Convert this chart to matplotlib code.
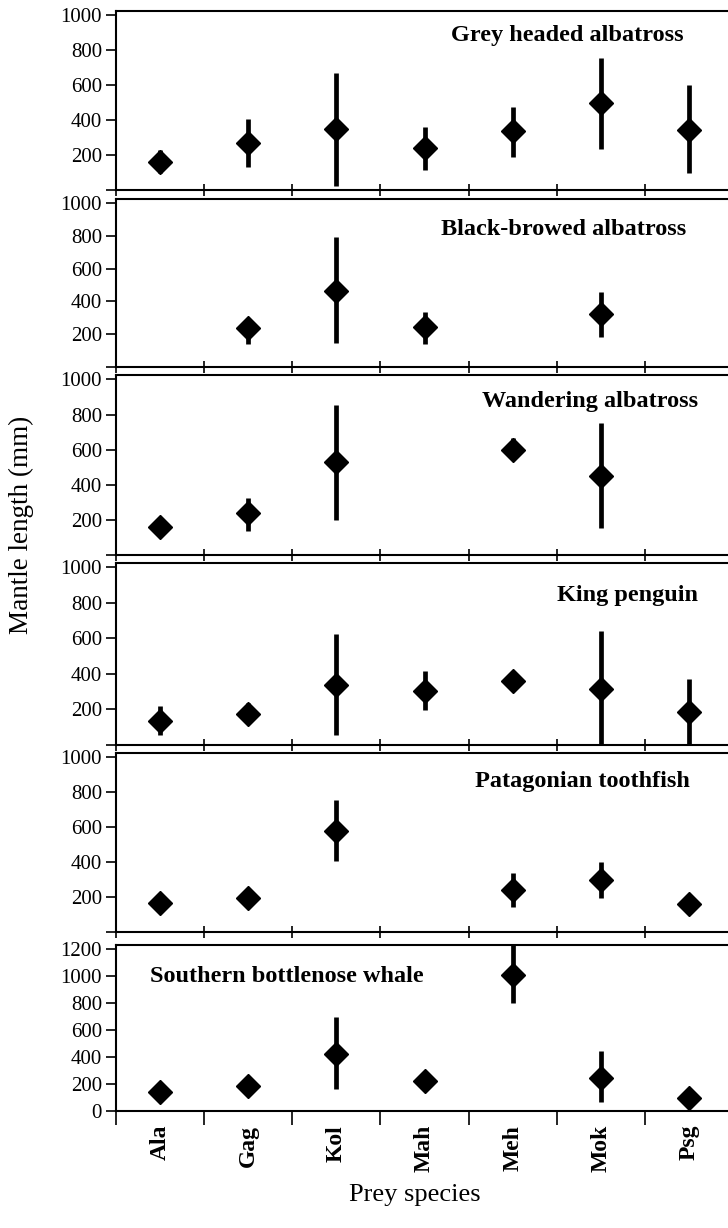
import numpy as np
import matplotlib
matplotlib.use('Agg')
import matplotlib.pyplot as plt

plt.rcParams['font.family'] = ['Liberation Serif', 'DejaVu Serif']

# prey species on the x axis
prey = ['Ala', 'Gag', 'Kol', 'Mah', 'Meh', 'Mok', 'Psg']

# predator panels, top to bottom
predators = ['Grey headed albatross', 'Black-browed albatross', 'Wandering albatross',
             'King penguin', 'Patagonian toothfish', 'Southern bottlenose whale']

# mean mantle length (mm), None = prey not found
grey_mean = [158, 269, 349, 240, 335, 497, 341]
grey_low = [97, 131, 25, 116, 187, 236, 97]
grey_high = [227, 408, 672, 358, 478, 758, 602]

black_mean = [None, 235, 463, 241, None, 322, None]
black_low = [None, 143, 147, 143, None, 184, None]
black_high = [None, 296, 792, 337, None, 459, None]

wand_mean = [158, 239, 528, None, 598, 450, None]
wand_low = [158, 139, 202, None, 547, 152, None]
wand_high = [158, 327, 855, None, 666, 752, None]

king_mean = [136, 176, 338, 305, 360, 314, 186]
king_low = [55, 130, 55, 195, 330, 0, 0]
king_high = [222, 235, 627, 419, 395, 640, 369]

tooth_mean = [167, 194, 578, None, 241, 296, 161]
tooth_low = [167, 194, 407, None, 144, 194, 161]
tooth_high = [167, 194, 756, None, 337, 398, 161]

whale_mean = [141, 183, 426, 221, 1009, 248, 97]
whale_low = [141, 183, 166, 221, 803, 67, 97]
whale_high = [141, 183, 694, 221, 1240, 446, 97]

means = [grey_mean, black_mean, wand_mean, king_mean, tooth_mean, whale_mean]
lows = [grey_low, black_low, wand_low, king_low, tooth_low, whale_low]
highs = [grey_high, black_high, wand_high, king_high, tooth_high, whale_high]

W, H = 728, 1228
fig = plt.figure(figsize=(W / 100, H / 100), dpi=100)

# panel boxes in pixels: (top, bottom)
boxes = [(11, 190), (199, 367), (375, 555), (563, 745), (753, 932), (945, 1111)]
left_px, right_px = 116, 733
# title placement (x, y in axes fraction, ha)
title_pos = [(0.92, 0.865, 'right'), (0.925, 0.82, 'right'), (0.943, 0.85, 'right'),
             (0.943, 0.82, 'right'), (0.93, 0.84, 'right'), (0.055, 0.81, 'left')]

x = np.arange(len(prey))
for i, (top, bot) in enumerate(boxes):
    ax = fig.add_axes([left_px / W, 1 - bot / H, (right_px - left_px) / W, (bot - top) / H])
    m = means[i]
    for j in range(len(prey)):
        if m[j] is None:
            continue
        ax.plot([x[j], x[j]], [lows[i][j], highs[i][j]], color='black', lw=3.4,
                solid_capstyle='butt', zorder=2)
        ax.plot(x[j], m[j], marker='D', color='black', ms=12.5, zorder=3)
    ax.set_xlim(-0.5, 6.5)
    if i < 5:
        ax.set_ylim(0, 1025)
        ax.set_yticks([0, 200, 400, 600, 800, 1000])
        ax.set_yticklabels(['', '200', '400', '600', '800', '1000'])
        ax.set_xticks(np.arange(-0.5, 7, 1))
        ax.set_xticklabels([])
        ax.tick_params(axis='x', direction='inout', length=9, width=1.2)
    else:
        ax.set_ylim(0, 1230)
        ax.set_yticks([0, 200, 400, 600, 800, 1000, 1200])
        ax.set_xticks(np.arange(-0.5, 7, 1))
        ax.set_xticklabels([])
        ax.tick_params(axis='x', direction='out', length=10, width=1.2)
        ax.set_xticks(x, minor=True)
        ax.set_xticklabels(prey, minor=True, rotation=90, fontweight='bold', fontsize=17)
        ax.tick_params(axis='x', which='minor', length=0, pad=10)
    ax.tick_params(axis='y', direction='out', length=7, width=1.2, labelsize=15, pad=3)
    for s in ax.spines.values():
        s.set_linewidth(1.5)
    tx, ty, ha = title_pos[i]
    ax.text(tx, ty, predators[i], transform=ax.transAxes, ha=ha, va='center',
            fontsize=17.5, fontweight='bold')

fig.text(21 / W, 1 - 525 / H, 'Mantle length (mm)', rotation=90, ha='center', va='center',
         fontsize=19.5)
fig.text(415 / W, 1 - 1195 / H, 'Prey species', ha='center', va='center', fontsize=19)

fig.savefig('out.png', dpi=100)
